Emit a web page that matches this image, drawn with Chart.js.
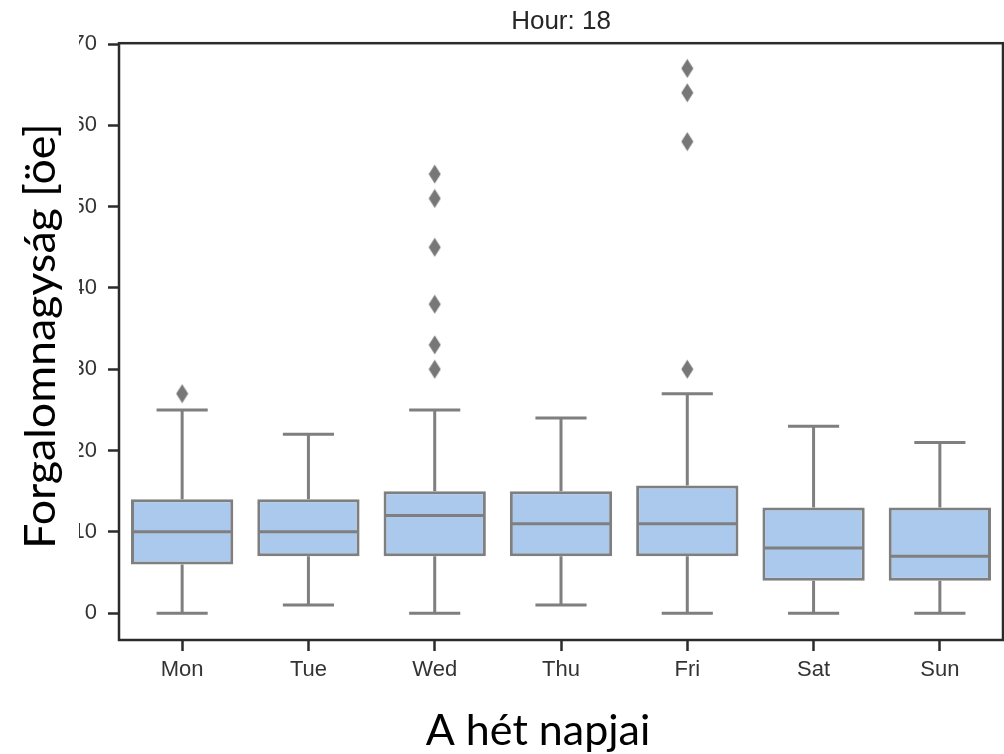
<!DOCTYPE html>
<html>
<head>
<meta charset="utf-8">
<script src="https://cdn.jsdelivr.net/npm/chart.js@4.4.1/dist/chart.umd.min.js"></script>
<style>
  body { margin: 0; background: #fff; }
  #wrap { width: 1004px; height: 754px; }
</style>
</head>
<body>
<div id="wrap"><canvas id="boxChart"></canvas></div>
<script>
// Box plot data per weekday
const days = ["Mon", "Tue", "Wed", "Thu", "Fri", "Sat", "Sun"];
const whiskerLow = [0, 1, 0, 1, 0, 0, 0];
const q1 = [6, 7, 7, 7, 7, 4, 4];
const median = [10, 10, 12, 11, 11, 8, 7];
const q3 = [14, 14, 15, 15, 15.7, 13, 13];
const whiskerHigh = [25, 22, 25, 24, 27, 23, 21];
const outliers = [[27], [], [30, 33, 38, 45, 51, 54], [], [30, 58, 64, 67], [], []];
const yTicks = [0, 10, 20, 30, 40, 50, 60, 70];

const boxFill = "#abc9ec";
const lineGray = "#7f7f7f";
const axisColor = "#2b2b2b";
const tickFont = "'Liberation Sans', Arial, sans-serif";
const titleFont = "Lato, 'Open Sans', sans-serif";

// diamond marker for outliers (taller than wide)
function makeDiamond() {
    const c = document.createElement("canvas");
    c.width = 13;
    c.height = 20;
    const g = c.getContext("2d");
    g.fillStyle = "#777777";
    g.beginPath();
    g.moveTo(6.5, 0.5);
    g.lineTo(12.5, 10);
    g.lineTo(6.5, 19.5);
    g.lineTo(0.5, 10);
    g.closePath();
    g.fill();
    return c;
}

const outlierPoints = [];
outliers.forEach((list, i) => {
    list.forEach(v => outlierPoints.push({ x: days[i], y: v }));
});

// whiskers, caps and median lines
const whiskerPlugin = {
    id: "whiskers",
    afterDatasetsDraw(chart) {
        const ctx = chart.ctx;
        const y = chart.scales.y;
        const bars = chart.getDatasetMeta(0).data;
        ctx.save();
        ctx.strokeStyle = lineGray;
        ctx.lineWidth = 3;
        bars.forEach((bar, i) => {
            const x = bar.x;
            const half = bar.width / 2;
            const cap = bar.width / 4;
            ctx.beginPath();
            ctx.moveTo(x, y.getPixelForValue(q3[i]));
            ctx.lineTo(x, y.getPixelForValue(whiskerHigh[i]));
            ctx.moveTo(x - cap, y.getPixelForValue(whiskerHigh[i]));
            ctx.lineTo(x + cap, y.getPixelForValue(whiskerHigh[i]));
            ctx.moveTo(x, y.getPixelForValue(q1[i]));
            ctx.lineTo(x, y.getPixelForValue(whiskerLow[i]));
            ctx.moveTo(x - cap, y.getPixelForValue(whiskerLow[i]));
            ctx.lineTo(x + cap, y.getPixelForValue(whiskerLow[i]));
            ctx.moveTo(x - half + 1.5, y.getPixelForValue(median[i]));
            ctx.lineTo(x + half - 1.5, y.getPixelForValue(median[i]));
            ctx.stroke();
        });
        ctx.restore();
    }
};

// frame around the plot and the two axis titles
const framePlugin = {
    id: "frame",
    afterDraw(chart) {
        const ctx = chart.ctx;
        const a = chart.chartArea;
        ctx.save();
        ctx.strokeStyle = axisColor;
        ctx.lineWidth = 2.5;
        ctx.strokeRect(a.left, a.top, a.right - a.left, a.bottom - a.top);

        // y title sits on a white backing that hides part of the tick labels
        ctx.fillStyle = "#fff";
        ctx.fillRect(0, 30, 79, 522);
        ctx.save();
        ctx.translate(55, 336);
        ctx.rotate(-Math.PI / 2);
        ctx.scale(1.04, 1);
        ctx.fillStyle = "#000";
        ctx.font = "43px " + titleFont;
        ctx.textAlign = "center";
        ctx.textBaseline = "alphabetic";
        ctx.fillText("Forgalomnagyság [öe]", 0, 0);
        ctx.restore();

        ctx.fillStyle = "#000";
        ctx.font = "43px " + titleFont;
        ctx.textAlign = "center";
        ctx.textBaseline = "alphabetic";
        ctx.fillText("A hét napjai", 538, 745);
        ctx.restore();
    }
};

const ctx = document.getElementById("boxChart").getContext("2d");
new Chart(ctx, {
    data: {
        labels: days,
        datasets: [
            {
                type: "bar",
                data: q1.map((v, i) => [v, q3[i]]),
                backgroundColor: boxFill,
                borderColor: lineGray,
                borderWidth: 3,
                borderSkipped: false,
                categoryPercentage: 0.81,
                barPercentage: 1
            },
            {
                type: "scatter",
                data: outlierPoints,
                pointStyle: makeDiamond(),
                pointRadius: 7
            }
        ]
    },
    options: {
        responsive: true,
        maintainAspectRatio: false,
        animation: false,
        layout: { autoPadding: false, padding: { top: 1, right: 1, bottom: 0, left: 0 } },
        plugins: {
            legend: { display: false },
            tooltip: { enabled: false },
            title: {
                display: true,
                text: "Hour: 18",
                fullSize: false,
                color: "#262626",
                font: { family: tickFont, size: 26, weight: "normal" },
                padding: { top: 5, bottom: 6 }
            }
        },
        scales: {
            x: {
                type: "category",
                offset: true,
                border: { display: false },
                grid: {
                    display: true,
                    offset: false,
                    drawOnChartArea: false,
                    drawTicks: true,
                    tickLength: 11,
                    tickWidth: 2.5,
                    tickColor: axisColor
                },
                ticks: {
                    color: "#333",
                    padding: 6,
                    font: { family: tickFont, size: 22 }
                },
                afterFit: scale => {
                    scale.height = 114;
                    scale.paddingLeft = 0;
                    scale.paddingRight = 0;
                }
            },
            y: {
                min: -3.3,
                max: 70.1,
                border: { display: false },
                grid: {
                    display: true,
                    drawOnChartArea: false,
                    drawTicks: true,
                    tickLength: 11,
                    tickWidth: 2.5,
                    tickColor: axisColor
                },
                ticks: {
                    color: "#333",
                    padding: 11,
                    font: { family: tickFont, size: 22 }
                },
                afterBuildTicks: scale => {
                    scale.ticks = yTicks.map(v => ({ value: v }));
                },
                afterFit: scale => { scale.width = 119; }
            }
        }
    },
    plugins: [whiskerPlugin, framePlugin]
});
</script>
</body>
</html>
